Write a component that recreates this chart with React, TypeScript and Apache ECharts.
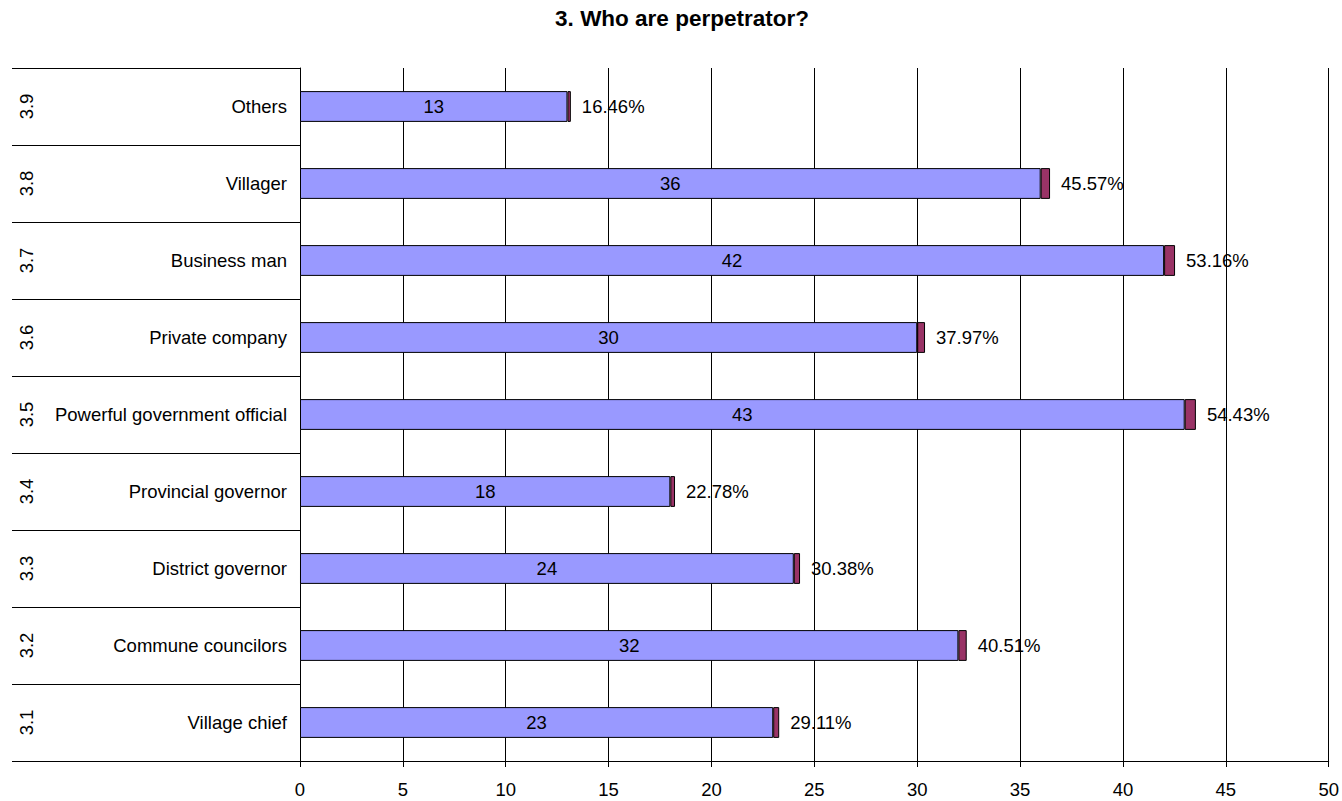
import React, { useEffect, useRef } from "react";
import * as echarts from "echarts";

// Categories listed bottom-to-top (category y axis starts at the bottom)
const codes = ["3.1", "3.2", "3.3", "3.4", "3.5", "3.6", "3.7", "3.8", "3.9"];
const categories = [
  "Village chief",
  "Commune councilors",
  "District governor",
  "Provincial governor",
  "Powerful government official",
  "Private company",
  "Business man",
  "Villager",
  "Others",
];
const counts = [23, 32, 24, 18, 43, 30, 42, 36, 13];
const percents = [29.11, 40.51, 30.38, 22.78, 54.43, 37.97, 53.16, 45.57, 16.46];
const xTicks = { min: 0, max: 50, interval: 5 };

const FONT = "Liberation Sans, Arial, sans-serif";
const FS = 18.5;

export default function App() {
  const ref = useRef<HTMLDivElement>(null);

  useEffect(() => {
    document.body.style.margin = "0";
    if (!ref.current) return;
    const chart = echarts.init(ref.current, undefined, { renderer: "svg" });
    chart.setOption({
      animation: false,
      backgroundColor: "#ffffff",
      textStyle: { fontFamily: FONT },
      title: {
        text: "3. Who are perpetrator?",
        left: 677,
        textAlign: "center",
        top: 2,
        textStyle: { fontFamily: FONT, fontSize: 22.5, fontWeight: "bold", color: "#000" },
      },
      grid: { left: 300, right: 13, top: 68, bottom: 40, containLabel: false },
      xAxis: {
        type: "value",
        min: xTicks.min,
        max: xTicks.max,
        interval: xTicks.interval,
        axisLine: { show: true, lineStyle: { color: "#000", width: 1 } },
        axisTick: { show: true, length: 6, lineStyle: { color: "#000" } },
        axisLabel: { color: "#000", fontSize: FS, fontFamily: FONT, margin: 19 },
        splitLine: { show: true, lineStyle: { color: "#000", width: 1 } },
      },
      yAxis: [
        {
          type: "category",
          data: categories,
          axisLine: { show: true, lineStyle: { color: "#000", width: 1 } },
          axisTick: { show: true, length: 288, lineStyle: { color: "#000", width: 1 } },
          axisLabel: { color: "#000", fontSize: FS, fontFamily: FONT, margin: 13 },
        },
        {
          type: "category",
          data: codes,
          position: "left",
          offset: 288,
          axisLine: { show: false },
          axisTick: { show: false },
          axisLabel: {
            inside: true,
            rotate: 90,
            margin: 5,
            color: "#000",
            fontSize: 18.5,
            fontFamily: FONT,
          },
        },
      ],
      series: [
        {
          name: "Count",
          type: "bar",
          stack: "total",
          yAxisIndex: 0,
          barWidth: "40%",
          data: counts,
          itemStyle: { color: "#9999FF", borderColor: "#000", borderWidth: 1 },
          label: {
            show: true,
            position: "inside",
            color: "#000",
            fontSize: FS,
            fontFamily: FONT,
          },
        },
        {
          name: "Percent",
          type: "bar",
          stack: "total",
          yAxisIndex: 0,
          barWidth: "40%",
          data: percents.map((p) => p / 100),
          itemStyle: { color: "#993366", borderColor: "#000", borderWidth: 1 },
          label: {
            show: true,
            position: "right",
            distance: 11,
            color: "#000",
            fontSize: FS,
            fontFamily: FONT,
            formatter: (p: any) => percents[p.dataIndex].toFixed(2) + "%",
          },
        },
      ],
    });
    return () => chart.dispose();
  }, []);

  return <div ref={ref} style={{ width: 1342, height: 801 }} />;
}
